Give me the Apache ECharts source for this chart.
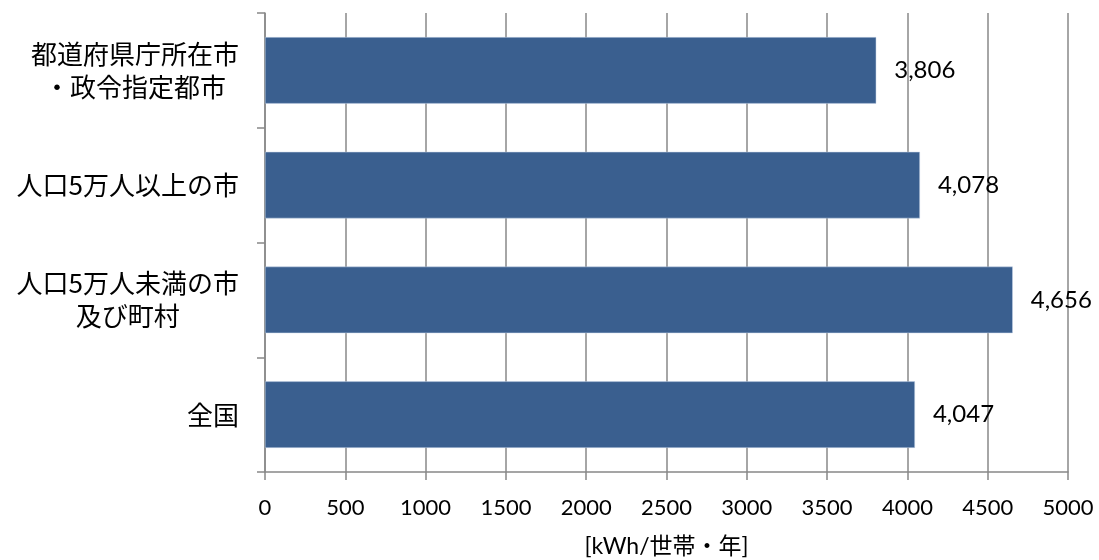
<!DOCTYPE html>
<html><head><meta charset="utf-8">
<script src="https://cdn.jsdelivr.net/npm/echarts@6/dist/echarts.min.js"></script>
<style>html,body{margin:0;padding:0;background:#fff}#c{width:1099px;height:560px}</style>
</head><body><div id="c"></div>
<script>
var categories = ['都道府県庁所在市\n・政令指定都市', '人口5万人以上の市', '人口5万人未満の市\n及び町村', '全国'];
var values = [3806, 4078, 4656, 4047];
var xTicks = [0, 500, 1000, 1500, 2000, 2500, 3000, 3500, 4000, 4500, 5000];
var axisName = '[kWh/世帯・年]';

var numFont = 'Lato, "Noto Sans CJK JP", sans-serif';
var cjkFont = '"Noto Sans CJK JP", sans-serif';
var chart = echarts.init(document.getElementById('c'), null, {renderer: 'canvas'});
chart.setOption({
  animation: false,
  backgroundColor: '#fff',
  grid: {left: 265, right: 31, top: 13, bottom: 88, containLabel: false, outerBoundsMode: 'none'},
  xAxis: {
    type: 'value', min: xTicks[0], max: xTicks[xTicks.length - 1], interval: 500,
    name: axisName, nameLocation: 'middle', nameGap: 63,
    nameTextStyle: {fontFamily: numFont, fontSize: 23, color: '#000'},
    axisLine: {show: true, lineStyle: {color: '#888', width: 1.5}},
    axisTick: {show: true, length: 8, lineStyle: {color: '#888', width: 1.5}},
    axisLabel: {fontFamily: numFont, fontSize: 22, color: '#000', margin: 25,
      formatter: function (v) { return String(v); }},
    splitLine: {show: true, lineStyle: {color: '#888', width: 1.5}}
  },
  yAxis: {
    type: 'category', data: categories, inverse: true,
    axisLine: {show: true, lineStyle: {color: '#888', width: 1.5}},
    axisTick: {show: true, length: 8, lineStyle: {color: '#888', width: 1.5}},
    axisLabel: {
      margin: 26, color: '#000',
      formatter: function (v) { return v.split('\n').map(function (s) { return '{c|' + s + '}'; }).join('\n'); },
      rich: {c: {fontFamily: cjkFont, fontSize: 26, lineHeight: 33, align: 'center', color: '#000'}}
    },
    splitLine: {show: false}
  },
  series: [{
    type: 'bar', data: values, barCategoryGap: '42%',
    itemStyle: {color: '#3A5F8F', borderColor: '#c5d3e6', borderWidth: 0.5},
    label: {
      show: true, position: 'right', distance: 18, color: '#000',
      fontFamily: numFont, fontSize: 24,
      formatter: function (p) { return p.value.toLocaleString('en-US'); }
    }
  }]
});
</script></body></html>
